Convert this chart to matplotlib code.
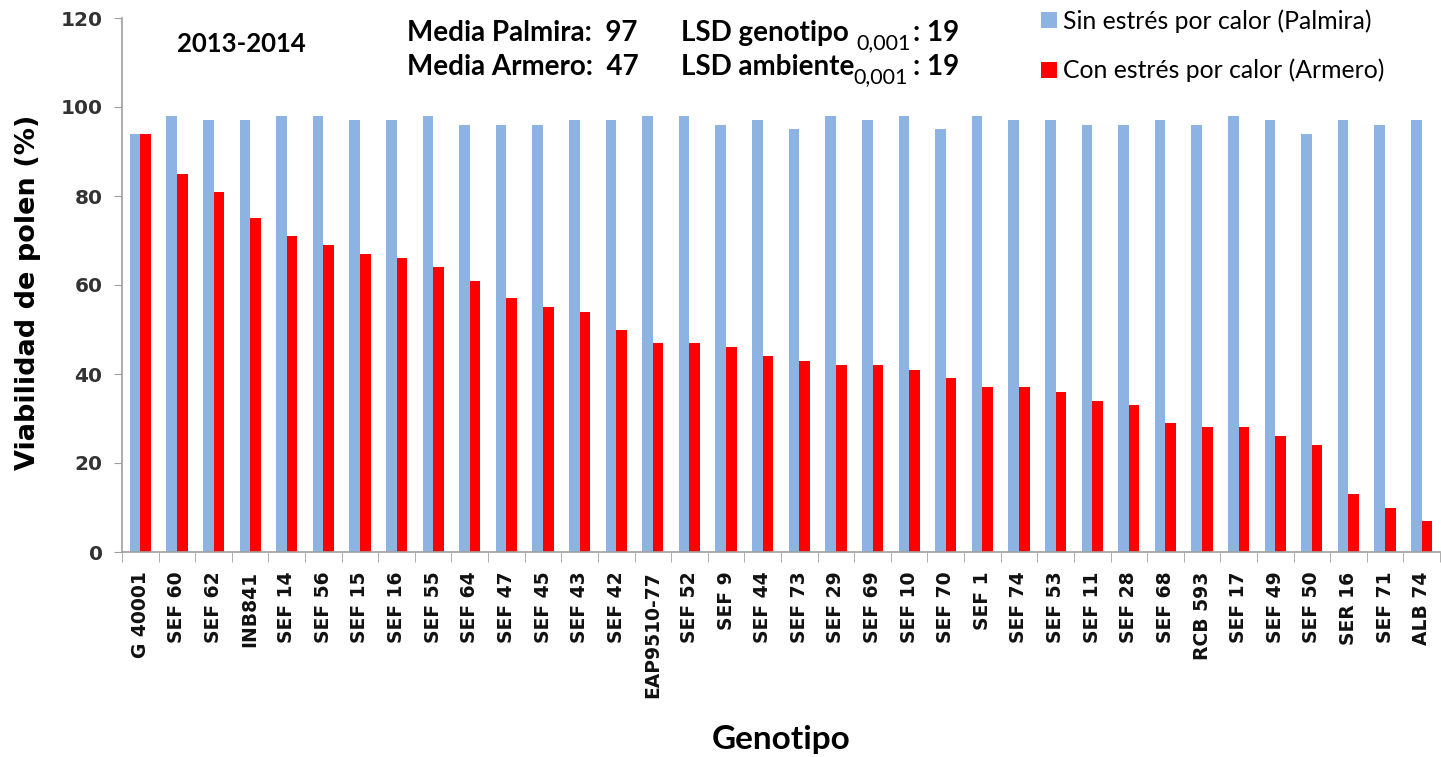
import numpy as np
import matplotlib
matplotlib.use("Agg")
import matplotlib.pyplot as plt

# data
genotipos = ["G 40001", "SEF 60", "SEF 62", "INB841", "SEF 14", "SEF 56", "SEF 15",
             "SEF 16", "SEF 55", "SEF 64", "SEF 47", "SEF 45", "SEF 43", "SEF 42",
             "EAP9510-77", "SEF 52", "SEF 9", "SEF 44", "SEF 73", "SEF 29", "SEF 69",
             "SEF 10", "SEF 70", "SEF 1", "SEF 74", "SEF 53", "SEF 11", "SEF 28",
             "SEF 68", "RCB 593", "SEF 17", "SEF 49", "SEF 50", "SER 16", "SEF 71",
             "ALB 74"]
palmira = [94, 98, 97, 97, 98, 98, 97, 97, 98, 96, 96, 96, 97, 97, 98, 98, 96, 97,
           95, 98, 97, 98, 95, 98, 97, 97, 96, 96, 97, 96, 98, 97, 94, 97, 96, 97]
armero = [94, 85, 81, 75, 71, 69, 67, 66, 64, 61, 57, 55, 54, 50, 47, 47, 46, 44,
          43, 42, 42, 41, 39, 37, 37, 36, 34, 33, 29, 28, 28, 26, 24, 13, 10, 7]

lbl_palmira = "Sin estrés por calor (Palmira)"
lbl_armero = "Con estrés por calor (Armero)"

BLUE = "#8db3e2"
RED = "#ff0000"
FONT = "Lato"
TICKFONT = "DejaVu Sans"

W, H = 1441, 757
fig = plt.figure(figsize=(W / 100, H / 100), dpi=100)
ax = fig.add_axes([122 / W, 1 - 552 / H, (1440 - 122) / W, (552 - 18) / H])


def fx(px):
    return px / W


def fy(py):
    return 1 - py / H


x = np.arange(len(genotipos))
bw = 0.29
ax.bar(x - bw / 2, palmira, bw, color=BLUE, label=lbl_palmira)
ax.bar(x + bw / 2, armero, bw, color=RED, label=lbl_armero)

ax.set_xlim(-0.5, len(genotipos) - 0.5)
ax.set_ylim(0, 120)
ax.set_yticks(range(0, 121, 20))
ax.set_yticklabels([str(v) for v in range(0, 121, 20)], fontsize=14.5,
                   fontweight="bold", family=TICKFONT, color="#333333")
ax.set_xticks(x)
ax.set_xticklabels(genotipos, rotation=90, fontsize=13.5, fontweight="bold",
                   family=TICKFONT, color="#111111")
ax.set_xticks(np.arange(-0.5, len(genotipos), 1), minor=True)
ax.tick_params(axis="x", which="major", length=0, pad=14)
ax.tick_params(axis="x", which="minor", length=7, color="#a0a0a0", direction="out")
ax.tick_params(axis="y", length=6, color="#a0a0a0", pad=8)

for s in ["top", "right"]:
    ax.spines[s].set_visible(False)
for s in ["left", "bottom"]:
    ax.spines[s].set_color("#a0a0a0")
    ax.spines[s].set_linewidth(1.2)

fig.text(fx(28), fy(292), "Viabilidad de polen (%)", rotation=90, ha="center",
         va="center", fontsize=19.5, fontweight="bold", family=TICKFONT)
fig.text(fx(781), fy(740), "Genotipo", ha="center", va="center",
         fontsize=24, fontweight="bold", family=FONT)

# annotations
tk = dict(fontsize=20, fontweight="bold", family=FONT, va="baseline")
fig.text(fx(241), fy(52), "2013-2014", ha="center", fontsize=18.5,
         fontweight="bold", family=FONT, va="baseline")
fig.text(fx(407), fy(41), "Media Palmira:  97", **tk)
fig.text(fx(407), fy(75), "Media Armero:  47", **tk)
fig.text(fx(681), fy(41), "LSD genotipo", **tk)
fig.text(fx(681), fy(75), "LSD ambiente", **tk)
sub = dict(fontsize=15.5, family=FONT, va="baseline")
fig.text(fx(856), fy(49), "0,001", **sub)
fig.text(fx(853), fy(83), "0,001", **sub)
fig.text(fx(913), fy(41), ": 19", **tk)
fig.text(fx(913), fy(75), ": 19", **tk)

leg = ax.legend(loc="upper left", bbox_to_anchor=(fx(1024), fy(-8)),
                bbox_transform=fig.transFigure, frameon=False,
                prop={"family": FONT, "size": 17.8}, handlelength=0.62,
                handleheight=0.6, handletextpad=0.25, labelspacing=1.05,
                borderpad=0.2)

fig.savefig("out.png", dpi=100)
